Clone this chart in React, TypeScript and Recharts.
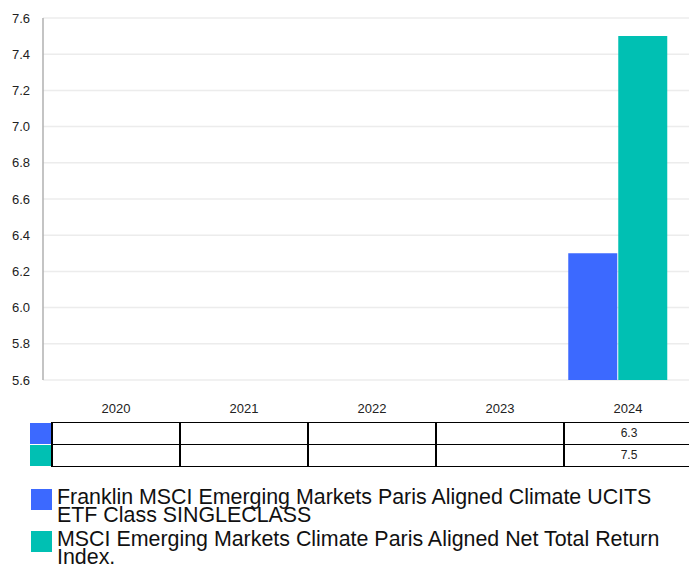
import { BarChart, Bar, XAxis, YAxis, CartesianGrid } from 'recharts';

const years = ['2020', '2021', '2022', '2023', '2024'];
const fundValues: (number | null)[] = [null, null, null, null, 6.3];
const indexValues: (number | null)[] = [null, null, null, null, 7.5];
const yTicks = [5.6, 5.8, 6.0, 6.2, 6.4, 6.6, 6.8, 7.0, 7.2, 7.4, 7.6];

const fundName = 'Franklin MSCI Emerging Markets Paris Aligned Climate UCITS ETF Class SINGLECLASS';
const indexName = 'MSCI Emerging Markets Climate Paris Aligned Net Total Return Index.';

const BLUE = '#3c69ff';
const TEAL = '#00c0b3';
const FONT = '"Liberation Sans", Arial, sans-serif';

const series = [
  { key: 'fund', name: fundName, color: BLUE, values: fundValues },
  { key: 'index', name: indexName, color: TEAL, values: indexValues },
];

const data = years.map((y, i) => ({
  year: y,
  fund: fundValues[i],
  index: indexValues[i],
}));

const COL_X = 52;
const COL_W = 128;

function DataTable() {
  return (
    <>
      {years.map((y, i) => (
        <div
          key={y}
          style={{
            position: 'absolute',
            left: COL_X + i * COL_W,
            top: 400,
            width: COL_W,
            height: 18,
            lineHeight: '18px',
            textAlign: 'center',
            fontSize: 13,
            color: '#222',
          }}
        >
          {y}
        </div>
      ))}
      {series.map((s, r) => (
        <div key={s.key}>
          <div
            style={{
              position: 'absolute',
              left: 30,
              top: 423 + r * 22,
              width: 22,
              height: 21,
              background: s.color,
            }}
          />
          {s.values.map((v, i) => (
            <div
              key={i}
              style={{
                position: 'absolute',
                left: COL_X + i * COL_W - 1,
                top: 422 + r * 22,
                width: COL_W,
                height: 21,
                borderTop: '1px solid #000',
                borderBottom: r === series.length - 1 ? '1px solid #000' : 'none',
                borderLeft: '2px solid #000',
                lineHeight: '21px',
                textAlign: 'center',
                fontSize: 12,
                color: '#222',
              }}
            >
              {v == null ? '' : v.toFixed(1)}
            </div>
          ))}
        </div>
      ))}
    </>
  );
}

function Legend() {
  return (
    <>
      {series.map((s, i) => (
        <div key={s.key}>
          <div
            style={{
              position: 'absolute',
              left: 31,
              top: 489 + i * 42,
              width: 21,
              height: 21,
              background: s.color,
            }}
          />
          <div
            style={{
              position: 'absolute',
              left: 57,
              top: 489 + i * 42,
              width: 618,
              fontSize: 21.4,
              lineHeight: '17.5px',
              color: '#111',
            }}
          >
            {s.name}
          </div>
        </div>
      ))}
    </>
  );
}

export default function App() {
  return (
    <div
      style={{
        position: 'absolute',
        left: 0,
        top: 0,
        width: 689,
        height: 567,
        overflow: 'hidden',
        background: '#fff',
        fontFamily: FONT,
      }}
    >
      <BarChart
        width={689}
        height={390}
        data={data}
        margin={{ top: 18, right: 0, bottom: 10, left: 0 }}
        barGap={1}
        barCategoryGap="11%"
      >
        <CartesianGrid vertical={false} stroke="#ececec" strokeWidth={1.5} />
        <XAxis dataKey="year" hide padding={{ left: 0, right: 7 }} />
        <YAxis
          domain={[5.6, 7.6]}
          ticks={yTicks}
          tickFormatter={(v: number) => v.toFixed(1)}
          width={43}
          tickLine={false}
          tickSize={0}
          tickMargin={13}
          axisLine={{ stroke: '#b0b0b0', strokeWidth: 1.5 }}
          tick={{ fill: '#222', fontSize: 13, fontFamily: FONT }}
          allowDataOverflow
        />
        {series.map((s) => (
          <Bar key={s.key} dataKey={s.key} name={s.name} fill={s.color} isAnimationActive={false} />
        ))}
      </BarChart>
      <DataTable />
      <Legend />
    </div>
  );
}
